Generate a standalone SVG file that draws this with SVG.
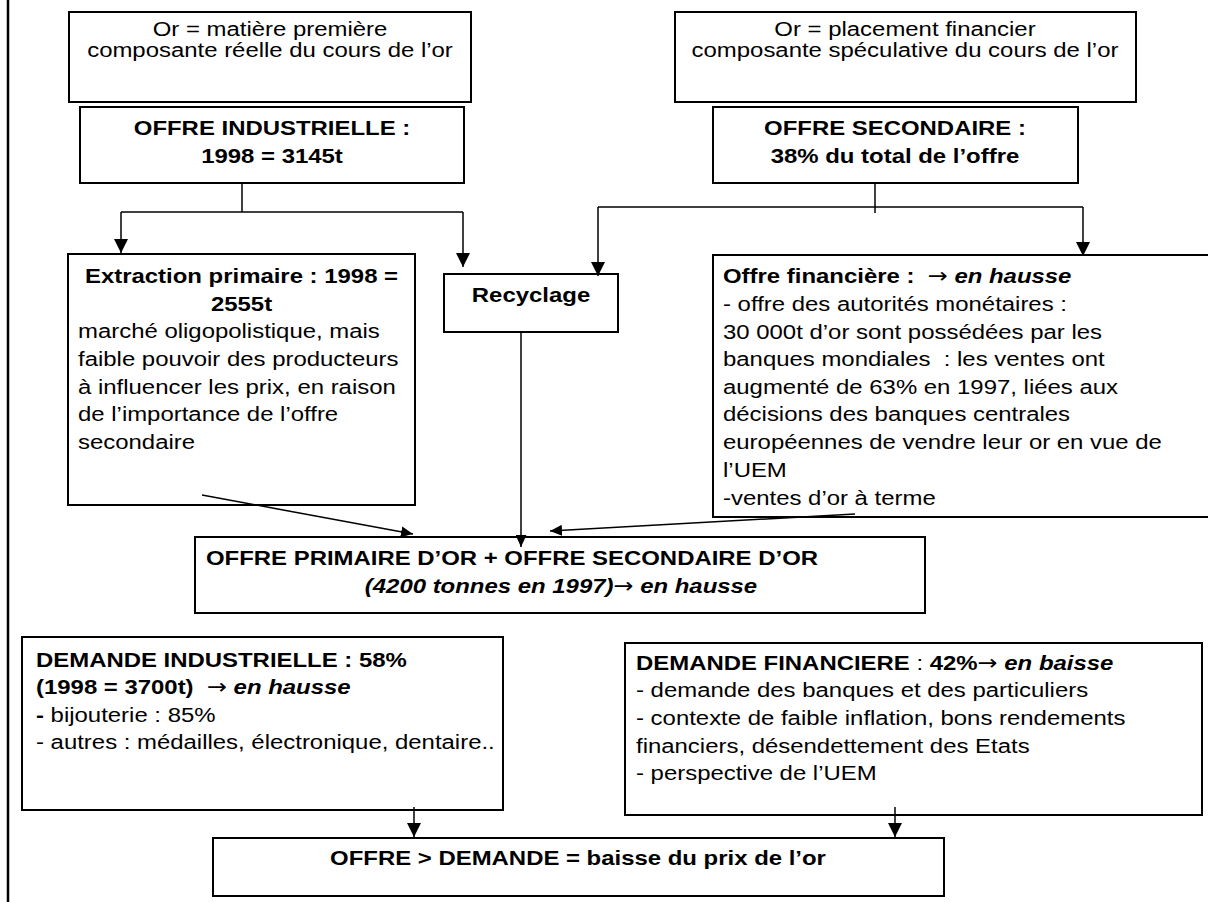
<svg xmlns="http://www.w3.org/2000/svg" width="1208" height="902" viewBox="0 0 1208 902">
<style>
.t{font-family:"Liberation Sans",Arial,Helvetica,sans-serif;font-size:21px;fill:#000}
.b{font-weight:bold}
.bi{font-weight:bold;font-style:italic}
.ar{font-family:"DejaVu Sans",sans-serif;font-weight:normal;font-style:normal}
.c{text-anchor:middle}
.box{fill:#fff;stroke:#000;stroke-width:2}
.ln{fill:none;stroke:#000;stroke-width:1.5}
</style>
<defs>
<marker id="big" markerUnits="userSpaceOnUse" markerWidth="14" markerHeight="14" refX="14" refY="7" orient="auto"><path d="M0,0 L14,7 L0,14 z" fill="#000"/></marker>
<marker id="sm" markerUnits="userSpaceOnUse" markerWidth="12" markerHeight="11" refX="12" refY="5.5" orient="auto"><path d="M0,0 L12,5.5 L0,11 z" fill="#000"/></marker>
</defs>
<rect width="1208" height="902" fill="#fff"/>
<line x1="8" y1="0" x2="8" y2="902" stroke="#000" stroke-width="2.5"/>

<g id="or-matiere">
<rect class="box" x="69" y="12" width="402" height="90"/>
<text class="t c" transform="translate(270,0) scale(1.14,1)"><tspan x="0" y="36">Or = matière première</tspan><tspan x="0" y="57">composante réelle du cours de l’or</tspan></text>
</g>
<g id="or-placement">
<rect class="box" x="675" y="12" width="461" height="90"/>
<text class="t c" transform="translate(905,0) scale(1.14,1)"><tspan x="0" y="36">Or = placement financier</tspan><tspan x="0" y="57">composante spéculative du cours de l’or</tspan></text>
</g>
<g id="offre-industrielle">
<rect class="box" x="80" y="107" width="384" height="76"/>
<text class="t b c" transform="translate(272,0) scale(1.14,1)"><tspan x="0" y="135">OFFRE INDUSTRIELLE :</tspan><tspan x="0" y="163">1998 = 3145t</tspan></text>
</g>
<g id="offre-secondaire">
<rect class="box" x="713" y="107" width="365" height="76"/>
<text class="t b c" transform="translate(895,0) scale(1.14,1)"><tspan x="0" y="135">OFFRE SECONDAIRE :</tspan><tspan x="0" y="163">38% du total de l’offre</tspan></text>
</g>
<g id="extraction">
<rect class="box" x="68" y="254" width="347" height="251"/>
<text class="t b c" transform="translate(241.5,0) scale(1.14,1)"><tspan x="0" y="283">Extraction primaire : 1998 =</tspan><tspan x="0" y="311">2555t</tspan></text>
<text class="t" transform="translate(78,0) scale(1.14,1)"><tspan x="0" y="338">marché oligopolistique, mais</tspan><tspan x="0" y="366">faible pouvoir des producteurs</tspan><tspan x="0" y="394">à influencer les prix, en raison</tspan><tspan x="0" y="421">de l’importance de l’offre</tspan><tspan x="0" y="449">secondaire</tspan></text>
</g>
<g id="recyclage">
<rect class="box" x="444" y="274" width="174" height="58"/>
<text class="t b c" transform="translate(531,0) scale(1.14,1)" y="302">Recyclage</text>
</g>
<g id="offre-financiere">
<rect class="box" x="713" y="255" width="500" height="262"/>
<text class="t" xml:space="preserve" transform="translate(723,0) scale(1.14,1)"><tspan x="0" y="283"><tspan class="b">Offre financière :  </tspan><tspan class="ar">→</tspan><tspan class="bi"> en hausse</tspan></tspan><tspan x="0" y="311">- offre des autorités monétaires :</tspan><tspan x="0" y="339">30 000t d’or sont possédées par les</tspan><tspan x="0" y="366">banques mondiales  : les ventes ont</tspan><tspan x="0" y="394">augmenté de 63% en 1997, liées aux</tspan><tspan x="0" y="421">décisions des banques centrales</tspan><tspan x="0" y="449">européennes de vendre leur or en vue de</tspan><tspan x="0" y="477">l’UEM</tspan><tspan x="0" y="505">-ventes d’or à terme</tspan></text>
</g>
<g id="offre-totale">
<rect class="box" x="195" y="537" width="730" height="76"/>
<text class="t b" transform="translate(206,0) scale(1.14,1)" y="565">OFFRE PRIMAIRE D’OR + OFFRE SECONDAIRE D’OR</text>
<text class="t c" transform="translate(561,0) scale(1.14,1)" y="593"><tspan class="bi">(4200 tonnes en 1997)</tspan><tspan class="ar">→</tspan><tspan class="bi"> en hausse</tspan></text>
</g>
<g id="demande-industrielle">
<rect class="box" x="22" y="637" width="481" height="173"/>
<text class="t" xml:space="preserve" transform="translate(36,0) scale(1.14,1)"><tspan x="0" y="667" class="b">DEMANDE INDUSTRIELLE : 58%</tspan><tspan x="0" y="694"><tspan class="b">(1998 = 3700t)  </tspan><tspan class="ar">→</tspan><tspan class="bi"> en hausse</tspan></tspan><tspan x="0" y="722"><tspan class="b">-</tspan> bijouterie : 85%</tspan><tspan x="0" y="749">- autres : médailles, électronique, dentaire..</tspan></text>
</g>
<g id="demande-financiere">
<rect class="box" x="625" y="643" width="577" height="172"/>
<text class="t" transform="translate(636,0) scale(1.14,1)"><tspan x="0" y="670"><tspan class="b">DEMANDE FINANCIERE</tspan> : <tspan class="b">42%</tspan><tspan class="ar">→</tspan><tspan class="bi"> en baisse</tspan></tspan><tspan x="0" y="697">- demande des banques et des particuliers</tspan><tspan x="0" y="725">- contexte de faible inflation, bons rendements</tspan><tspan x="0" y="753">financiers, désendettement des Etats</tspan><tspan x="0" y="780">- perspective de l’UEM</tspan></text>
</g>
<g id="conclusion">
<rect class="box" x="213" y="838" width="731" height="58"/>
<text class="t b c" transform="translate(578,0) scale(1.14,1)" y="865">OFFRE &gt; DEMANDE = baisse du prix de l’or</text>
</g>

<g id="connectors" class="ln">
<path d="M242,183 V212"/>
<path d="M121,212 H463"/>
<path d="M121,212 V253" marker-end="url(#big)"/>
<path d="M463,212 V267" marker-end="url(#big)"/>
<path d="M875,183 V213"/>
<path d="M598,207 H1083"/>
<path d="M598,207 V276" marker-end="url(#big)"/>
<path d="M1083,207 V256" marker-end="url(#big)"/>
<path d="M202,495 L413,534" marker-end="url(#sm)"/>
<path d="M521,332 V547" marker-end="url(#sm)"/>
<path d="M855,514 L550,531" marker-end="url(#sm)"/>
<path d="M414,807 V837" marker-end="url(#big)"/>
<path d="M895,807 V837" marker-end="url(#big)"/>
</g>
</svg>
